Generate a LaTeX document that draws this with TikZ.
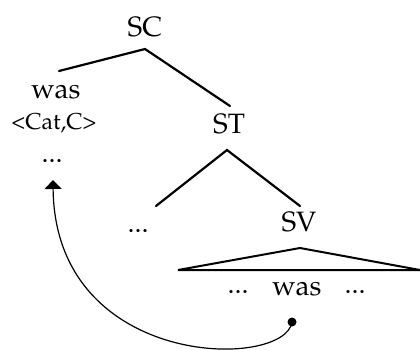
\documentclass[tikz,border=0pt]{standalone}
\usepackage[T1]{fontenc}
\usepackage{mathpazo}
\usetikzlibrary{arrows.meta}
\begin{document}
\begin{tikzpicture}[x=1pt,y=-1pt,
  lab/.style={inner sep=0pt,font=\fontsize{28}{30}\selectfont},
  small/.style={inner sep=0pt,font=\fontsize{23}{26}\selectfont},
  branch/.style={line width=2.2pt,line cap=round},
  tri/.style={line width=2pt,line join=miter}]
\useasboundingbox (0,0) rectangle (420,349);
\node[lab] (SC) at (145,27) {SC};
\node[lab] (was) at (56,92) {was};
\node[small] (cat) at (54,123) {<Cat,C>};
\node[lab] (d1) at (52,161) {...};
\node[lab] (ST) at (229,124) {ST};
\node[lab] (d2) at (138,231) {...};
\node[lab] (SV) at (299,222) {SV};
\node[lab] (d3) at (238,292) {...};
\node[lab] (was2) at (297,289) {was};
\node[lab] (d4) at (355,292) {...};
\coordinate (SCb) at (145,49);
\coordinate (Lend) at (59,71);
\coordinate (STt) at (230,106);
\coordinate (STb) at (227,150);
\coordinate (Mend) at (156,206);
\coordinate (SVt) at (300,206);
\coordinate (apex) at (300,248);
\coordinate (bl) at (178,270);
\coordinate (br) at (420,270);
\coordinate (src) at (292,322);
\coordinate (tgt) at (53,180);
\draw[branch] (Lend) -- (SCb) -- (STt);
\draw[branch] (Mend) -- (STb) -- (SVt);
\draw[tri] (bl) -- (apex) -- (br) -- cycle;
\fill (src) circle (4.5);
\draw[line width=1.2pt,-{Triangle[width=17pt,length=9pt]}] (src) .. controls (285,370) and (55,370) .. (tgt);
\end{tikzpicture}
\end{document}
